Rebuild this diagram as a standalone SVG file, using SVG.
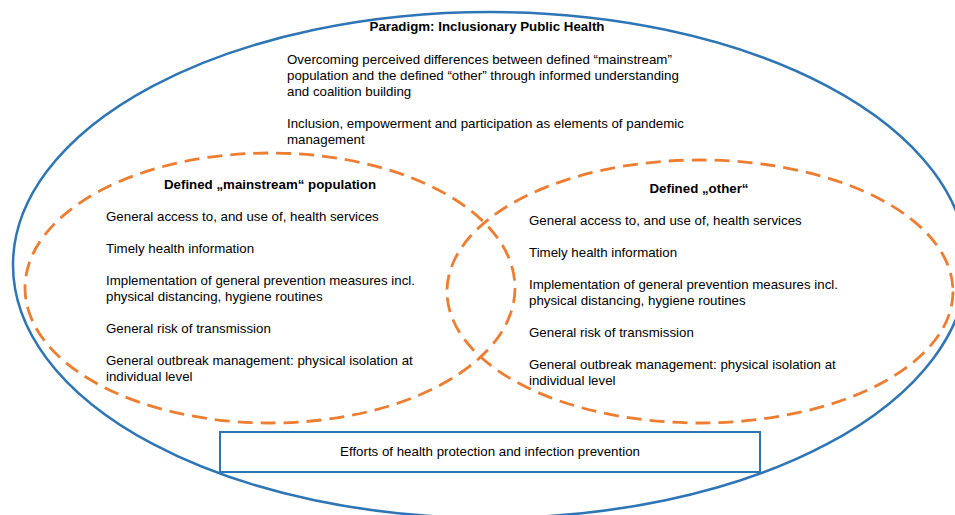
<svg xmlns="http://www.w3.org/2000/svg" width="955" height="515" viewBox="0 0 955 515">
<style>
  .t { font-family: "Liberation Sans", Arial, sans-serif; font-size: 13.3px; fill: #000; }
  .b { font-weight: bold; }
  .m { text-anchor: middle; }
  .blue { fill: none; stroke: #2E75B6; stroke-width: 2.5; }
  .dash { fill: none; stroke: #ED7D31; stroke-width: 2.8; stroke-dasharray: 15 8; }
</style>
<rect width="955" height="515" fill="#ffffff"/>
<g id="paradigm">
  <ellipse class="blue" cx="490" cy="265" rx="477" ry="253"/>
  <text class="t b m" x="487" y="31">Paradigm: Inclusionary Public Health</text>
  <text class="t" x="287" y="64">Overcoming perceived differences between defined “mainstream”</text>
  <text class="t" x="287" y="80">population and the defined “other” through informed understanding</text>
  <text class="t" x="287" y="96">and coalition building</text>
  <text class="t" x="287" y="128">Inclusion, empowerment and participation as elements of pandemic</text>
  <text class="t" x="287" y="144">management</text>
</g>
<g id="mainstream">
  <ellipse class="dash" cx="270" cy="288" rx="245" ry="135"/>
  <text class="t b m" x="270" y="189">Defined „mainstream“ population</text>
  <text class="t" x="106" y="221">General access to, and use of, health services</text>
  <text class="t" x="106" y="253">Timely health information</text>
  <text class="t" x="106" y="285">Implementation of general prevention measures incl.</text>
  <text class="t" x="106" y="301">physical distancing, hygiene routines</text>
  <text class="t" x="106" y="333">General risk of transmission</text>
  <text class="t" x="106" y="365">General outbreak management: physical isolation at</text>
  <text class="t" x="106" y="381">individual level</text>
</g>
<g id="other">
  <ellipse class="dash" cx="700" cy="291.5" rx="253" ry="131.5"/>
  <text class="t b m" x="699" y="193">Defined „other“</text>
  <text class="t" x="529" y="225">General access to, and use of, health services</text>
  <text class="t" x="529" y="257">Timely health information</text>
  <text class="t" x="529" y="289">Implementation of general prevention measures incl.</text>
  <text class="t" x="529" y="305">physical distancing, hygiene routines</text>
  <text class="t" x="529" y="337">General risk of transmission</text>
  <text class="t" x="529" y="369">General outbreak management: physical isolation at</text>
  <text class="t" x="529" y="385">individual level</text>
</g>
<g id="efforts">
  <rect x="220" y="432" width="540" height="40" fill="#ffffff" stroke="#2E75B6" stroke-width="2"/>
  <text class="t m" x="490" y="456">Efforts of health protection and infection prevention</text>
</g>
<g id="connectors"></g>
</svg>
